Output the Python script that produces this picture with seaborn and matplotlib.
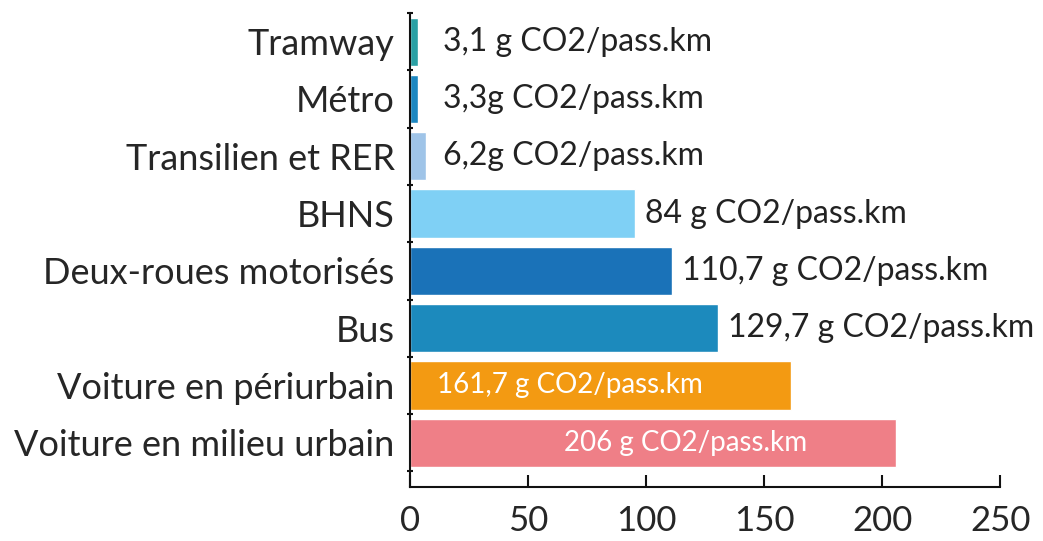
import numpy as np
import pandas as pd
import matplotlib
matplotlib.use("Agg")
import matplotlib.pyplot as plt
from matplotlib import font_manager
import seaborn as sns

# donnees
categories = ["Tramway", "Métro", "Transilien et RER", "BHNS",
              "Deux-roues motorisés", "Bus", "Voiture en périurbain",
              "Voiture en milieu urbain"]
bar_values = [3.4, 3.4, 6.8, 95.5, 111, 130.5, 161.5, 206]
value_labels = ["3,1 g CO2/pass.km", "3,3g CO2/pass.km", "6,2g CO2/pass.km",
                "84 g CO2/pass.km", "110,7 g CO2/pass.km", "129,7 g CO2/pass.km",
                "161,7 g CO2/pass.km", "206 g CO2/pass.km"]
inside = [False, False, False, False, False, False, True, True]
colors = ["#2aa0a4", "#1c87c1", "#9fc4e8", "#7fd0f5",
          "#1a72b8", "#1c8abd", "#f39a12", "#ef7f87"]
xticks = [0, 50, 100, 150, 200, 250]

df = pd.DataFrame({"mode": categories, "val": bar_values})

sns.set_style("white")
installed = {f.name for f in font_manager.fontManager.ttflist}
fam = [f for f in ["Liberation Sans Narrow", "Lato", "DejaVu Sans"] if f in installed]
plt.rcParams["font.family"] = fam
plt.rcParams["text.color"] = "#222222"

fig = plt.figure(figsize=(10.43, 5.41), dpi=100)
ax = fig.add_axes([0.393, 0.1, 0.566, 0.876])

sns.barplot(data=df, y="mode", x="val", hue="mode", palette=colors,
            legend=False, width=0.84, ax=ax, saturation=1)

for i, (v, lab, ins) in enumerate(zip(bar_values, value_labels, inside)):
    if ins:
        # etiquettes blanches a l'interieur des barres
        ax.annotate(lab, (v, i), xytext=(-64, 0), textcoords="offset points",
                    ha="right", va="center", color="white", fontsize=20)
    else:
        ax.annotate(lab, (max(v, 10), i), xytext=(7, 0),
                    textcoords="offset points", ha="left", va="center",
                    fontsize=23, color="#222222")

ax.set_xlim(0, 250)
ax.set_ylim(len(categories) - 0.5 + 0.27, -0.5)
ax.set_xticks(xticks)
ax.set_xticklabels([str(t) for t in xticks], fontsize=25)
ax.set_yticks(range(len(categories)))
ax.set_yticklabels(categories, fontsize=26)
ax.set_yticks(np.arange(-0.5, len(categories)), minor=True)
ax.tick_params(axis="y", which="major", left=False, length=0, pad=11)
ax.tick_params(axis="y", which="minor", left=True, length=5, width=1.5,
               direction="inout", color="#111111")
ax.tick_params(axis="x", bottom=True, length=9, width=1.5, direction="in",
               color="#111111", pad=13)
ax.set_xlabel("")
ax.set_ylabel("")

for s in ["top", "right"]:
    ax.spines[s].set_visible(False)
for s in ["left", "bottom"]:
    ax.spines[s].set_color("#111111")
    ax.spines[s].set_linewidth(1.5)

fig.savefig("out.png", dpi=100, facecolor="white")
